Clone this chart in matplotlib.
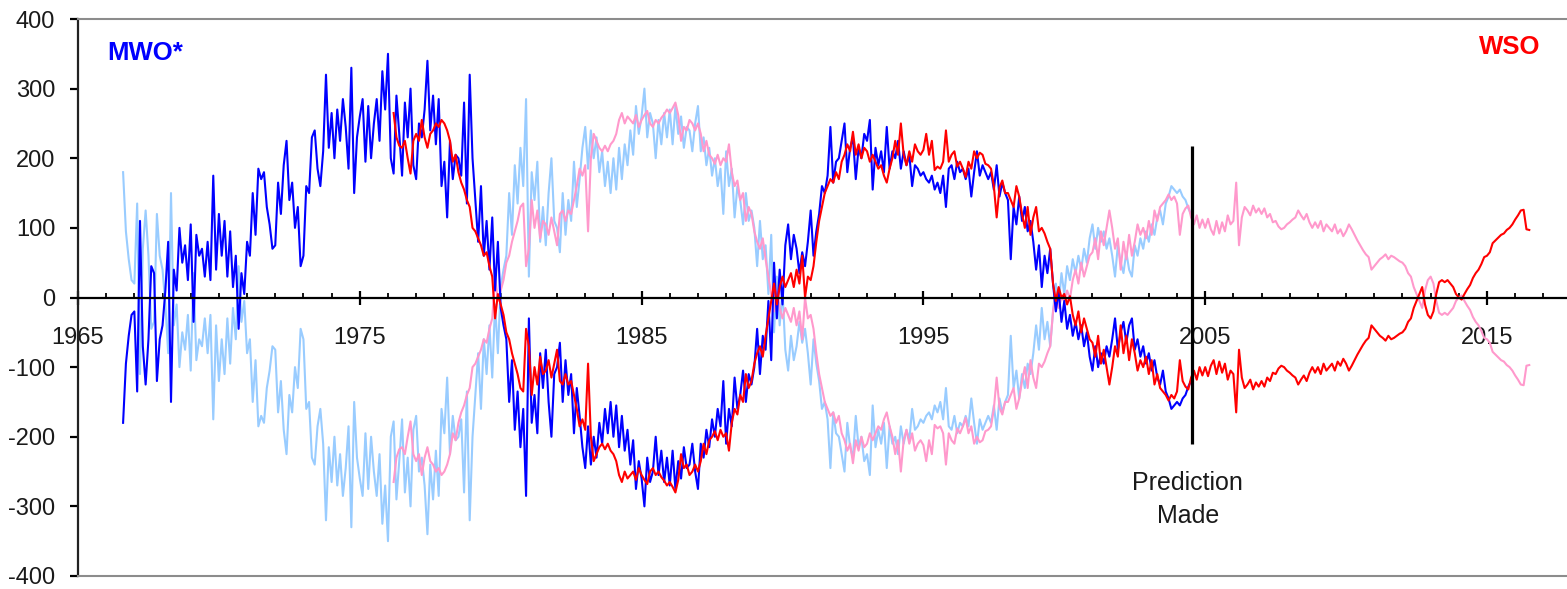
import numpy as np
import matplotlib
matplotlib.use("Agg")
import matplotlib.pyplot as plt
from matplotlib.ticker import FixedLocator, MultipleLocator

plt.rcParams['font.family'] = ['Liberation Sans', 'DejaVu Sans']
plt.rcParams['axes.unicode_minus'] = False

# ---------------- data ----------------
STEP = 0.1                      # years between samples
MWO_START = 1966.6              # first MWO* sample
MWO = [
    -180, -95, -55, -25,                                        # 1966.6-
    -20, -135, 110, -70, -125, -60, 45, 35, -120, -60,          # 1967
    -40, 10, 80, -150, 40, 10, 100, 50, 75, 25,                 # 1968
    105, -35, 90, 60, 70, 30, 80, 25, 175, 40,                  # 1969
    120, 60, 110, 30, 95, 15, 60, -45, 35, 5,                   # 1970
    80, 60, 150, 90, 185, 170, 180, 130, 105, 70,               # 1971
    75, 165, 120, 190, 225, 140, 165, 100, 130, 45,             # 1972
    60, 160, 150, 230, 240, 185, 160, 210, 320, 215,            # 1973
    265, 200, 270, 225, 285, 245, 185, 330, 150, 230,           # 1974
    260, 285, 195, 275, 200, 250, 285, 225, 325, 270,           # 1975
    350, 200, 178, 290, 235, 175, 280, 230, 300, 190,           # 1976
    170, 250, 230, 270, 340, 240, 290, 220, 285, 160,           # 1977
    195, 115, 225, 170, 205, 200, 175, 280, 135, 320,           # 1978
    200, 140, 80, 160, 60, 110, 40, 115, 10, 80,                # 1979
    -15, -40, -60, -150, -90, -190, -135, -215, -160, -285,     # 1980
    -30, -180, -140, -195, -80, -130, -75, -150, -200, -110,    # 1981
    -100, -65, -150, -90, -140, -110, -195, -130, -170, -215,   # 1982
    -245, -185, -240, -200, -230, -180, -210, -160, -195, -150, # 1983
    -200, -155, -215, -170, -220, -190, -240, -205, -275, -235, # 1984
    -260, -300, -230, -265, -250, -200, -255, -220, -265, -230, # 1985
    -270, -220, -275, -235, -260, -215, -245, -240, -210, -250, # 1986
    -275, -210, -230, -190, -215, -175, -200, -160, -185, -120, # 1987
    -210, -160, -185, -115, -160, -140, -105, -150, -110, -125, # 1988
    -100, -45, -110, -55, -75, -5, -90, 50, -30, 40,            # 1989
    -10, 75, 105, 55, 90, 70, 35, 65, 45, 80,                   # 1990
    125, 60, 95, 120, 160, 150, 175, 245, 165, 195,             # 1991
    200, 225, 250, 180, 215, 230, 170, 215, 200, 235,           # 1992
    225, 255, 155, 215, 190, 210, 180, 245, 185, 210,           # 1993
    200, 225, 185, 210, 190, 205, 160, 190, 185, 175,           # 1994
    180, 170, 165, 175, 155, 165, 150, 175, 130, 185,           # 1995
    190, 170, 195, 180, 185, 170, 185, 145, 180, 210,           # 1996
    175, 190, 180, 170, 180, 155, 190, 145, 165, 150,           # 1997
    140, 55, 130, 105, 145, 110, 130, 95, 110, 80,              # 1998
    40, 75, 15, 60, 35, 70, 20, -20, 10, -35,                   # 1999
    -5, -45, -25, -55, -35, -60, -40, -70, -50, -85,            # 2000
    -105, -70, -100, -80, -95, -70, -85, -60, -30, -75,         # 2001
    -50, -35, -65, -40, -30, -75, -60, -85, -70, -95,           # 2002
    -80, -105, -90, -115, -125, -105, -135, -145, -160, -155,   # 2003
    -150, -155, -145, -140, -128, -120,                         # 2004
]

WSO_START = 1976.2              # first WSO sample
WSO = [
    265, 230, 218, 215, 225, 200, 178, 225,                     # 1976.2-
    235, 225, 255, 230, 215, 235, 240, 250, 245, 255,           # 1977
    250, 240, 225, 195, 205, 180, 165, 155, 140, 130,           # 1978
    100, 95, 85, 75, 60, 65, 45, 30, -30, 5,                    # 1979
    -10, -25, -50, -60, -80, -95, -110, -130, -135, -45,        # 1980
    -70, -140, -100, -125, -85, -110, -105, -90, -115, -95,     # 1981
    -75, -120, -125, -110, -125, -120, -140, -160, -185, -175,  # 1982
    -190, -95, -200, -235, -225, -215, -210, -218, -210, -220,  # 1983
    -225, -235, -255, -265, -250, -260, -255, -250, -262, -245, # 1984
    -255, -262, -268, -250, -245, -255, -250, -258, -263, -270, # 1985
    -265, -272, -280, -262, -225, -245, -240, -255, -250, -240, # 1986
    -250, -235, -210, -225, -205, -200, -192, -205, -190, -200, # 1987
    -195, -220, -180, -160, -168, -140, -150, -110, -130, -120, # 1988
    -95, -80, -70, -85, -55, -30, -5, 20, -10, 15,              # 1989
    30, 15, 25, 35, 15, 40, 20, 60, 0, 30,                      # 1990
    25, 45, 80, 110, 130, 150, 160, 170, 165, 180,              # 1991
    170, 195, 205, 220, 210, 238, 205, 220, 200, 215,           # 1992
    210, 195, 205, 195, 185, 190, 175, 165, 185, 200,           # 1993
    225, 205, 250, 205, 190, 210, 195, 220, 210, 205,           # 1994
    212, 235, 205, 225, 183, 188, 185, 195, 240, 195,           # 1995
    205, 210, 188, 195, 185, 173, 195, 185, 210, 200,           # 1996
    208, 205, 192, 190, 185, 160, 115, 158, 168, 150,           # 1997
    150, 140, 130, 160, 145, 120, 100, 130, 90, 115,            # 1998
    130, 95, 100, 92, 80, 70, 20, -5, 15, 0,                    # 1999
    5, -10, 2, -25, -40, -20, -50, -30, -45, -60,               # 2000
    -65, -85, -55, -95, -75, -100, -125, -100, -70, -85,        # 2001
    -40, -80, -55, -90, -60, -80, -105, -90, -100, -85,         # 2002
    -110, -90, -125, -110, -130, -135, -140, -148, -140, -145,  # 2003
    -135, -90, -120, -128, -132, -115, -105, -118, -100, -112,  # 2004
    -100, -113, -98, -90, -110, -92, -108, -95, -118, -105,     # 2005
    -110, -165, -75, -115, -130, -125, -118, -132, -122, -128,  # 2006
    -120, -128, -115, -120, -108, -110, -102, -98, -100, -105,  # 2007
    -108, -112, -115, -125, -118, -112, -120, -108, -100, -108, # 2008
    -100, -110, -95, -105, -100, -95, -105, -92, -98, -88,      # 2009
    -95, -105, -98, -90, -82, -75, -68, -62, -58, -40,          # 2010
    -45, -50, -55, -58, -62, -55, -60, -58, -55, -52,           # 2011
    -50, -45, -35, -30, -15, -5, 5, 15, -10, -25,               # 2012
    -30, -20, 5, 22, 25, 22, 25, 20, 15, 5,                     # 2013
    0, -3, 5, 12, 18, 28, 35, 40, 48, 58,                       # 2014
    60, 65, 78, 82, 86, 90, 92, 97, 100, 105,                   # 2015
    112, 118, 125, 126, 98, 97,                                 # 2016
]

PREDICTION_YEAR = 2004.53
PREDICTION_SPAN = [-210, 217]
YEAR_TICKS = [1965, 1975, 1985, 1995, 2005, 2015]
Y_TICKS = [-400, -300, -200, -100, 0, 100, 200, 300, 400]

# ---------------- colours ----------------
BLUE = '#0000FF'
LIGHT_BLUE = '#99CCFF'
RED = '#FF0000'
PINK = '#FF99CC'
GREY = '#8C8C8C'

mwo = np.array(MWO, dtype=float)
wso = np.array(WSO, dtype=float)
mwo_t = MWO_START + STEP * np.arange(len(mwo))
wso_t = WSO_START + STEP * np.arange(len(wso))

W, H = 1567, 589
fig = plt.figure(figsize=(W / 100, H / 100), dpi=100)
ax = fig.add_axes([78 / W, 1 - 576 / H, (W - 78) / W, (576 - 19) / H])

lw = 1.5
ax.plot(mwo_t, -mwo, color=LIGHT_BLUE, lw=lw, zorder=2)
ax.plot(wso_t, -wso, color=PINK, lw=lw, zorder=2.1)
ax.plot(mwo_t, mwo, color=BLUE, lw=lw, zorder=2.2)
ax.plot(wso_t, wso, color=RED, lw=lw, zorder=2.3)

ax.vlines(PREDICTION_YEAR, PREDICTION_SPAN[0], PREDICTION_SPAN[1],
          color='black', lw=2.3, zorder=5)
ax.text(PREDICTION_YEAR - 0.15, -290, 'Prediction\nMade', ha='center',
        va='center', fontsize=18, color='#1a1a1a', linespacing=1.45)

ax.set_xlim(1965, 1965 + (W - 78) / 28.18)
ax.set_ylim(-400, 400)

ax.spines['right'].set_visible(False)
ax.spines['top'].set_color(GREY)
ax.spines['top'].set_linewidth(1.5)
ax.spines['left'].set_color('#222222')
ax.spines['left'].set_linewidth(1.6)
ax.spines['bottom'].set_position(('data', 0))
ax.spines['bottom'].set_color('black')
ax.spines['bottom'].set_linewidth(1.6)
ax.spines['bottom'].set_zorder(3)
ax.axhline(-400, color=GREY, lw=1.5, clip_on=False, zorder=3)

ax.xaxis.set_major_locator(FixedLocator(YEAR_TICKS))
ax.xaxis.set_minor_locator(MultipleLocator(1))
ax.set_xticklabels([str(y) for y in YEAR_TICKS])
ax.yaxis.set_major_locator(FixedLocator(Y_TICKS))
ax.set_yticklabels([str(v) for v in Y_TICKS])

ax.tick_params(axis='x', which='major', direction='inout', length=10.5,
               width=1.6, pad=16, labelsize=17, labelcolor='#1a1a1a')
ax.tick_params(axis='x', which='minor', direction='in', length=3.6,
               width=1.3)
ax.tick_params(axis='y', which='major', direction='out', length=5.8,
               width=1.6, pad=10.5, labelsize=17, labelcolor='#1a1a1a')

fig.text(107 / W, 1 - 53 / H, 'MWO*', ha='left', va='center',
         color=BLUE, fontsize=18.5, fontweight='bold')
fig.text(1510 / W, 1 - 47 / H, 'WSO', ha='center', va='center',
         color=RED, fontsize=18.5, fontweight='bold')

fig.savefig('out.png', dpi=100)
